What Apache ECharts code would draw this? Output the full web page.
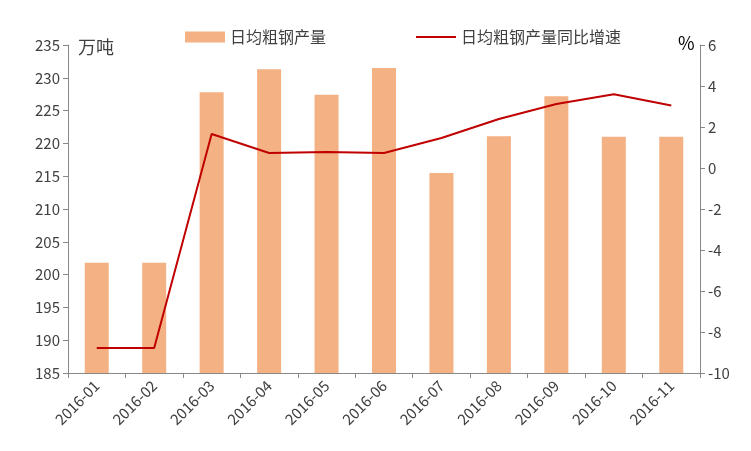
<!DOCTYPE html>
<html><head><meta charset="utf-8">
<script src="https://cdn.jsdelivr.net/npm/echarts@6/dist/echarts.min.js"></script>
<style>html,body{margin:0;padding:0;background:#fff}#c{width:751px;height:451px}</style>
</head><body><div id="c"></div>
<script>
const categories=['2016-01','2016-02','2016-03','2016-04','2016-05','2016-06','2016-07','2016-08','2016-09','2016-10','2016-11'];
const output=[201.8,201.8,227.8,231.3,227.4,231.5,215.5,221.1,227.2,221.0,221.0];
const growth=[-8.78,-8.78,1.66,0.73,0.78,0.73,1.46,2.39,3.12,3.6,3.05];
const f='"Microsoft YaHei","Noto Sans CJK SC",sans-serif';
const c=echarts.init(document.getElementById('c'));
c.setOption({
 animation:false,
 textStyle:{fontFamily:f},
 legend:{top:24,left:180,itemGap:90,textStyle:{fontSize:16,color:'#404040'},itemWidth:40,itemHeight:11,
   data:[{name:'日均粗钢产量',icon:'rect'},{name:'日均粗钢产量同比增速',icon:'path://M0,0H40V2H0Z'}]},
 grid:{left:68,right:51,top:45,bottom:78},
 graphic:[{type:'text',left:78,top:38,style:{text:'万吨',fontSize:18,fill:'#404040',fontFamily:f}},
          {type:'text',left:678,top:34,style:{text:'%',fontSize:18,fill:'#000',fontFamily:f}}],
 xAxis:{type:'category',data:categories,axisTick:{show:true,lineStyle:{color:'#888'}},
   axisLine:{onZero:false,lineStyle:{color:'#888'}},axisLabel:{rotate:45,fontSize:15,color:'#404040',margin:10,interval:0}},
 yAxis:[{type:'value',min:185,max:235,interval:5,splitLine:{show:false},axisLine:{show:true,lineStyle:{color:'#888'}},
   axisTick:{show:true,lineStyle:{color:'#888'}},axisLabel:{fontSize:15,color:'#404040'}},
  {type:'value',min:-10,max:6,interval:2,splitLine:{show:false},axisLine:{show:true,lineStyle:{color:'#888'}},
   axisTick:{show:true,lineStyle:{color:'#888'}},axisLabel:{fontSize:15,color:'#404040'}}],
 series:[{name:'日均粗钢产量',type:'bar',data:output,barWidth:24,itemStyle:{color:'#F4B183'}},
  {name:'日均粗钢产量同比增速',type:'line',yAxisIndex:1,data:growth,symbol:'none',lineStyle:{color:'#C00000',width:2},itemStyle:{color:'#C00000'}}]
});
</script></body></html>
